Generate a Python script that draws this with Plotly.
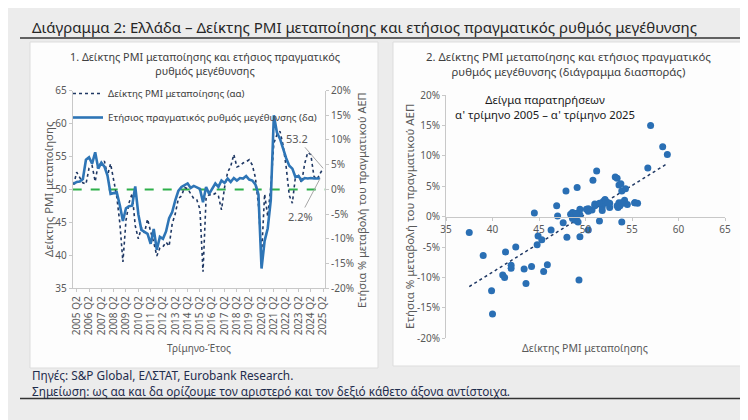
import numpy as np
import plotly.graph_objects as go

# ---------------- data ----------------
# quarter categories 2005 Q1 .. 2025 Q2
quarters = [f"{y} Q{q}" for y in range(2005, 2026) for q in range(1, 5)][:82]

# manufacturing PMI, quarterly average (2005 Q1 .. 2025 Q2)
pmi = [50.7, 52.6, 51.8, 51.0, 50.8, 53.2, 53.6, 51.2, 53.9, 53.8,
       54.3, 52.1, 53.9, 51.5, 48.9, 44.9, 39.0, 45.3, 48.0, 49.4,
       44.5, 42.5, 44.2, 43.4, 45.5, 43.6, 42.0, 39.9, 41.1, 41.3,
       42.0, 41.4, 44.8, 46.3, 48.6, 49.0, 50.3, 50.1, 49.4, 48.6,
       48.4, 47.0, 37.5, 48.7, 49.2, 49.1, 49.4, 49.0, 46.9, 50.3,
       52.6, 53.5, 55.3, 53.4, 53.6, 54.0, 54.2, 54.5, 53.7, 51.8,
       47.6, 40.0, 49.3, 45.9, 50.3, 57.0, 58.3, 58.8, 56.7, 53.4,
       49.1, 47.9, 51.9, 52.1, 51.0, 53.9, 55.6, 55.3, 52.0, 51.5,
       52.4, 53.2]

# annual real GDP growth, % (2005 Q1 .. 2025 Q1)
gdp = [1.1, 1.5, 1.6, 2.1, 6.0, 6.5, 5.2, 7.5, 4.2, 5.4,
       4.6, 2.8, -0.9, -0.7, -0.6, -3.2, -6.4, -3.8, -3.4, -3.3,
       0.6, -5.0, -8.2, -8.6, -9.0, -11.0, -8.0, -12.2, -9.6, -10.0,
       -8.5, -5.8, -4.6, -2.2, -0.3, 0.5, 0.9, 1.2, 0.3, 0.7,
       0.4, 0.1, -2.6, 0.5, -0.9, 0.1, 1.2, 0.5, 1.8, 1.3,
       2.2, 1.5, 2.3, 1.8, 2.3, 2.2, 2.7, 2.0, 1.8, 1.0,
       -1.0, -16.0, -10.4, -7.9, -2.2, 15.0, 11.5, 10.2, 8.0, 6.3,
       4.8, 4.2, 2.5, 2.7, 1.8, 2.3, 2.2, 2.3, 2.2, 2.2,
       2.2]

x_tick_labels = ["2005 Q2", "2006 Q2", "2007 Q2", "2008 Q2", "2009 Q2", "2010 Q2",
                 "2011 Q2", "2012 Q2", "2013 Q2", "2014 Q2", "2015 Q2", "2016 Q2",
                 "2017 Q2", "2018 Q2", "2019 Q2", "2020 Q2", "2021 Q2", "2022 Q2",
                 "2023 Q2", "2024 Q2", "2025 Q2"]
pmi_ticks = [35, 40, 45, 50, 55, 60, 65]
pct_ticks = [-20, -15, -10, -5, 0, 5, 10, 15, 20]
pct_tick_text = ["-20%", "-15%", "-10%", "-5%", "0%", "5%", "10%", "15%", "20%"]
scatter_x_ticks = [35, 40, 45, 50, 55, 60, 65]
PMI_NEUTRAL = 50

# ---------------- helpers ----------------
W, H = 748, 420
OFF = 8          # page body margin of the rendered html
FONT = "Noto Sans"
GREY = "#595959"


def px(x):
    return (x - OFF) / W


def py(y):
    return 1 - (y - OFF) / H


# sample used in the scatter: 2005 Q1 .. 2025 Q1
n = len(gdp)
sx = np.array(pmi[:n])
sy = np.array(gdp)
slope, intercept = np.polyfit(sx, sy, 1)
trend_x = np.array([sx.min(), sx.max()])
trend_y = slope * trend_x + intercept

fig = go.Figure()

fig.add_trace(go.Scatter(
    x=quarters, y=pmi, mode="lines", name="Δείκτης PMI μεταποίησης (αα)",
    line=dict(color="#1f3864", width=1.6, dash="dot"),
    xaxis="x", yaxis="y", legendgroup="a"))
fig.add_trace(go.Scatter(
    x=quarters[:n], y=gdp, mode="lines", name="Ετήσιος πραγματικός ρυθμός μεγέθυνσης (δα)",
    line=dict(color="#2e75b6", width=2.6),
    xaxis="x", yaxis="y2", legendgroup="b"))

fig.add_trace(go.Scatter(
    x=trend_x, y=trend_y, mode="lines", showlegend=False,
    line=dict(color="#1f3864", width=1.5, dash="dot"),
    xaxis="x3", yaxis="y3"))
fig.add_trace(go.Scatter(
    x=sx, y=sy, mode="markers", showlegend=False,
    marker=dict(color="#2a6fb4", size=7),
    xaxis="x3", yaxis="y3"))

axis_common = dict(showgrid=False, zeroline=False, showline=True, automargin=False,
                   linecolor="#c8c8c8", linewidth=1, ticks="outside",
                   ticklen=3, tickcolor="#c8c8c8",
                   tickfont=dict(family=FONT, size=10, color=GREY))

y3_dom = [py(338.3), py(95)]
x3_pos = y3_dom[0] + (0 - (-20)) / 40 * (y3_dom[1] - y3_dom[0])

fig.update_layout(
    width=W, height=H,
    margin=dict(l=0, r=0, t=0, b=0, pad=0),
    paper_bgcolor="#ececec",
    plot_bgcolor="rgba(0,0,0,0)",
    font=dict(family=FONT, color=GREY),
    xaxis=dict(domain=[px(72.7), px(325)], anchor="y", type="category",
               range=[-0.3, 81.6], tickvals=x_tick_labels, ticktext=x_tick_labels,
               tickangle=-90, **axis_common),
    yaxis=dict(domain=[py(288.3), py(90.5)], anchor="x", range=[35, 65],
               tickvals=pmi_ticks, **axis_common),
    yaxis2=dict(overlaying="y", side="right", anchor="x", range=[-20, 20],
                tickvals=pct_ticks, ticktext=pct_tick_text, **axis_common),
    xaxis3=dict(domain=[px(446), px(725)], anchor="free", position=x3_pos,
                range=[35, 65], tickvals=scatter_x_ticks, **axis_common),
    yaxis3=dict(domain=y3_dom, anchor="x3", range=[-20, 20],
                tickvals=pct_ticks, ticktext=pct_tick_text, **axis_common),
    legend=dict(x=px(68), y=py(79), xanchor="left", yanchor="top",
                bgcolor="rgba(0,0,0,0)", tracegroupgap=5, itemwidth=30,
                font=dict(family=FONT, size=9.7, color="#404040")),
)

shapes = [
    dict(type="rect", xref="paper", yref="paper", x0=px(30), x1=px(378), y0=py(368), y1=py(42),
         fillcolor="#fdfdfd", line=dict(color="#dddddd", width=1), layer="below"),
    dict(type="rect", xref="paper", yref="paper", x0=px(393), x1=px(742), y0=py(366), y1=py(42),
         fillcolor="#fdfdfd", line=dict(color="#dddddd", width=1), layer="below"),
    dict(type="line", xref="paper", yref="paper", x0=px(20), x1=1, y0=py(38), y1=py(38),
         line=dict(color="#333333", width=1.5)),
    dict(type="line", xref="paper", yref="paper", x0=px(20), x1=1, y0=py(398.5), y1=py(398.5),
         line=dict(color="#333333", width=1.5)),
    dict(type="line", xref="x domain", yref="y", x0=0, x1=1, y0=PMI_NEUTRAL, y1=PMI_NEUTRAL,
         line=dict(color="#2eb04a", width=2, dash="dash"), layer="below"),
]
fig.update_layout(shapes=shapes)

ann = []


def text(x, y, t, size, color=GREY, xanchor="center", angle=0, yanchor="middle"):
    ann.append(dict(x=px(x), y=py(y), xref="paper", yref="paper", text=t, showarrow=False,
                    xanchor=xanchor, yanchor=yanchor, textangle=angle,
                    font=dict(family=FONT, size=size, color=color)))


text(30, 27, "Διάγραμμα 2: Ελλάδα – Δείκτης PMI μεταποίησης και ετήσιος πραγματικός ρυθμός μεγέθυνσης",
     15, "#262626", xanchor="left")
text(205, 64, "1. Δείκτης PMI μεταποίησης και ετήσιος πραγματικός<br>ρυθμός μεγέθυνσης", 10.8, "#404040")
text(568, 64, "2. Δείκτης PMI μεταποίησης και ετήσιος πραγματικός<br>ρυθμός μεγέθυνσης (διάγραμμα διασποράς)",
     11.4, "#404040")
text(48, 189, "Δείκτης PMI μεταποίησης", 11.3, GREY, angle=-90)
text(362, 200, "Ετήσια % μεταβολή του πραγματικού ΑΕΠ", 11, GREY, angle=-90)
text(199, 348, "Τρίμηνο-Έτος", 10, GREY)
text(409, 217, "Ετήσια % μεταβολή του πραγματικού ΑΕΠ", 11.5, GREY, angle=-90)
text(585, 348, "Δείκτης PMI μεταποίησης", 10.5, GREY)
text(545, 107, "Δείγμα παρατηρήσεων<br>α' τρίμηνο 2005 – α' τρίμηνο 2025", 11.3, "#1a1a1a")
text(30, 375, "Πηγές: S&P Global, ΕΛΣΤΑΤ, Eurobank Research.", 11.8, "#1f2d4d", xanchor="left")
text(30, 391, "Σημείωση: ως αα και δα ορίζουμε τον αριστερό και τον δεξιό κάθετο άξονα αντίστοιχα.",
     11.8, "#1f2d4d", xanchor="left")

ann.append(dict(x=quarters[len(pmi) - 1], y=pmi[-1], xref="x", yref="y",
                text=f"{pmi[-1]:.1f}", showarrow=True, arrowhead=0, arrowwidth=1,
                arrowcolor="#a6a6a6", ax=-26, ay=-30, standoff=0,
                font=dict(family=FONT, size=11, color=GREY)))
ann.append(dict(x=quarters[n - 1], y=gdp[-1], xref="x", yref="y2",
                text=f"{gdp[-1]:.1f}%", showarrow=True, arrowhead=0, arrowwidth=1,
                arrowcolor="#a6a6a6", ax=-20, ay=38, standoff=0,
                font=dict(family=FONT, size=11, color=GREY)))

fig.update_layout(annotations=ann)

fig.write_html("out.html")
